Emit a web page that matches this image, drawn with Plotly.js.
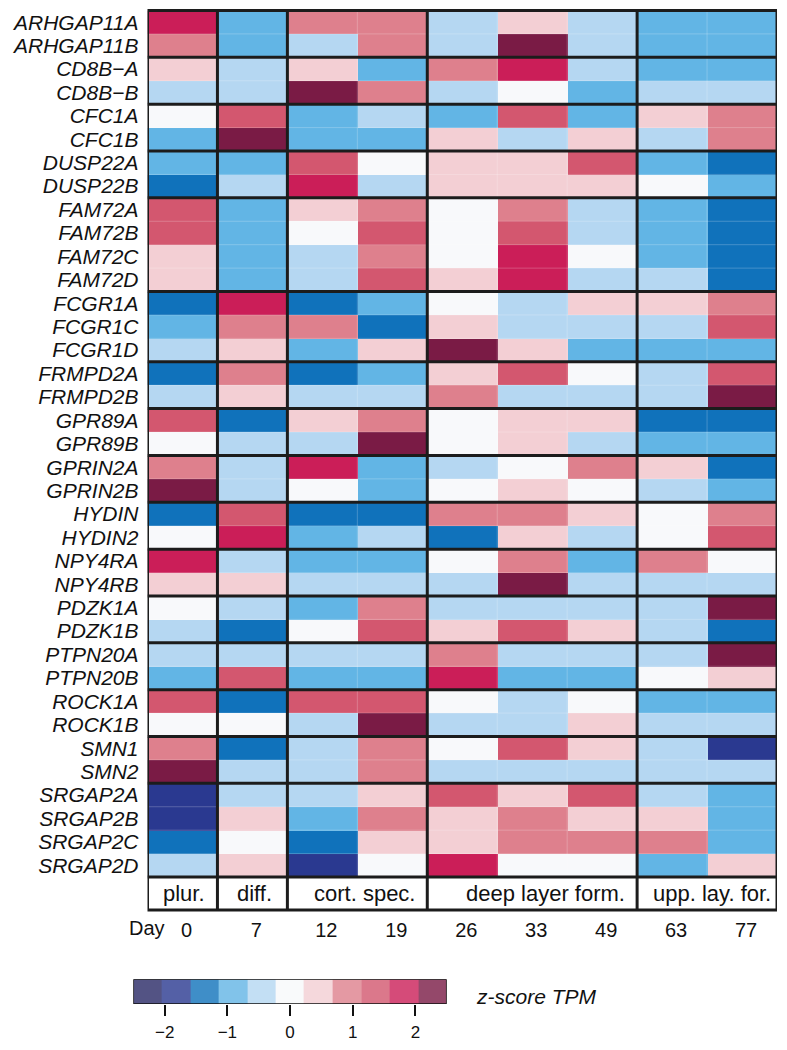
<!DOCTYPE html>
<html>
<head>
<meta charset="utf-8">
<script src="https://cdn.plot.ly/plotly-3.0.1.min.js"></script>
<style>html,body{margin:0;padding:0;background:#fff;}#chart{width:787px;height:1050px;}</style>
</head>
<body>
<div id="chart"></div>
<script>
// ---------- data ----------
const genes = ["ARHGAP11A","ARHGAP11B","CD8B\u2212A","CD8B\u2212B","CFC1A","CFC1B","DUSP22A","DUSP22B",
  "FAM72A","FAM72B","FAM72C","FAM72D","FCGR1A","FCGR1C","FCGR1D","FRMPD2A","FRMPD2B","GPR89A","GPR89B",
  "GPRIN2A","GPRIN2B","HYDIN","HYDIN2","NPY4RA","NPY4RB","PDZK1A","PDZK1B","PTPN20A","PTPN20B",
  "ROCK1A","ROCK1B","SMN1","SMN2","SRGAP2A","SRGAP2B","SRGAP2C","SRGAP2D"];
const geneGroupSizes = [2,2,2,2,4,3,2,2,2,2,2,2,2,2,2,4];
const days = ["0","7","12","19","26","33","49","63","77"];
const stageNames = ["plur.","diff.","cort. spec.","deep layer form.","upp. lay. for."];
const stageSizes = [1,1,2,3,2];

const day0  = [1.8,0.9,0.5,-0.5,0,-0.9,-0.9,-1.4,1.4,1.4,0.5,0.5,-1.4,-0.9,-0.5,-1.4,-0.5,1.4,0,0.9,2.3,-1.4,0,1.8,0.5,0,-0.5,-0.5,-0.9,1.4,0,0.9,2.3,-1.8,-1.8,-1.4,-0.5];
const day7  = [-0.9,-0.9,-0.5,-0.5,1.4,2.3,-0.9,-0.5,-0.9,-0.9,-0.9,-0.9,1.8,0.9,0.5,0.9,0.5,-1.4,-0.5,-0.5,-0.5,1.4,1.8,-0.5,0.5,-0.5,-1.4,-0.5,1.4,-1.4,0,-1.4,-0.5,-0.5,0.5,0,0.5];
const day12 = [0.9,-0.5,0.5,2.3,-0.9,-0.9,1.4,1.8,0.5,0,-0.5,-0.5,-1.4,0.9,-0.9,-1.4,-0.5,0.5,-0.5,1.8,0,-1.4,-0.9,-0.9,-0.5,-0.9,0,-0.5,-0.9,1.4,-0.5,-0.5,-0.5,-0.5,-0.9,-1.4,-1.8];
const day19 = [0.9,0.9,-0.9,0.9,-0.5,-0.9,0,-0.5,0.9,1.4,0.9,1.4,-0.9,-1.4,0.5,-0.9,-0.5,0.9,2.3,-0.9,-0.9,-1.4,-0.5,-0.9,-0.5,0.9,1.4,-0.5,-0.9,1.4,2.3,0.9,0.9,0.5,0.9,0.5,0];
const day26 = [-0.5,-0.5,0.9,-0.5,-0.9,0.5,0.5,0.5,0,0,0,0.5,0,0.5,2.3,0.5,0.9,0,0,-0.5,0,0.9,-1.4,0,-0.5,-0.5,0.5,0.9,1.8,0,-0.5,0,-0.5,1.4,0.5,0.5,1.8];
const day33 = [0.5,2.3,1.8,0,1.4,-0.5,0.5,0.5,0.9,1.4,1.8,1.8,-0.5,-0.5,0.5,1.4,-0.5,0.5,0.5,0,0.5,0.9,0.5,0.9,2.3,-0.5,1.4,-0.5,-0.9,-0.5,-0.5,1.4,-0.5,0.5,0.9,0.9,0];
const day49 = [-0.5,-0.5,-0.5,-0.9,-0.9,0.5,1.4,0.5,-0.5,-0.5,0,-0.5,0.5,-0.5,-0.9,0,-0.5,0.5,-0.5,0.9,0,0.5,-0.5,-0.9,-0.5,-0.5,0.5,-0.5,-0.9,0,0.5,0.5,-0.5,1.4,0.5,0.9,0];
const day63 = [-0.9,-0.9,-0.9,-0.5,0.5,-0.5,-0.9,0,-0.9,-0.9,-0.9,-0.5,0.5,-0.5,-0.9,-0.5,-0.5,-1.4,-0.9,0.5,-0.5,0,0,0.9,-0.5,-0.5,-0.5,-0.5,0,-0.9,-0.5,-0.5,-0.5,-0.5,0.5,0.9,-0.9];
const day77 = [-0.9,-0.9,-0.9,-0.5,0.9,0.9,-1.4,-0.9,-1.4,-1.4,-1.4,-1.4,0.9,1.4,-0.9,1.4,2.3,-1.4,-0.9,-1.4,-0.9,0.9,1.4,0,-0.5,2.3,-1.4,2.3,0.5,-0.9,-0.5,-1.8,-0.5,-0.9,-0.9,-0.9,0.5];

const keyValues = [-2.27,-1.82,-1.36,-0.91,-0.45,0,0.45,0.91,1.36,1.82,2.27];
const keyTicks = [-2,-1,0,1,2];

// ---------- style ----------
const binColors = ["#282966","#2a3990","#1072bb","#62b5e5","#b5d7f2","#f8f9fb","#f3cfd4","#de808d","#d3576f","#cb1e58","#7a1b45"];
const zMin = -2.5, zMax = 2.5;
const FONT = "Liberation Sans, Arial, Helvetica, sans-serif";
const LINE = "#1c1c1c";
const FAINT = "rgba(255,255,255,0.22)";
const W = 787, H = 1050;
const px = v => v / W;
const py = v => 1 - v / H;
const stageShift = [2,2,7,13,5];

const colorscale = [];
binColors.forEach((c, i) => {
  colorscale.push([i / binColors.length, c]);
  colorscale.push([(i + 1) / binColors.length, c]);
});

const dayCols = [day0, day7, day12, day19, day26, day33, day49, day63, day77];
const z = genes.map((g, r) => dayCols.map(col => col[r]));
const xIdx = days.map((d, i) => i);
const yIdx = genes.map((g, i) => i);

const heat = {
  type: "heatmap", z: z, x: xIdx, y: yIdx,
  colorscale: colorscale, zmin: zMin, zmax: zMax, showscale: false,
  xaxis: "x", yaxis: "y", hoverinfo: "skip"
};
const key = {
  type: "heatmap", z: [keyValues], x: keyValues, y: [0],
  colorscale: colorscale, zmin: zMin, zmax: zMax, showscale: false, opacity: 0.8,
  xaxis: "x3", yaxis: "y3", hoverinfo: "skip"
};
const dayAxisTrace = { type: "scatter", x: xIdx, y: xIdx.map(() => 0.5), mode: "markers",
  marker: {opacity: 0}, xaxis: "x2", yaxis: "y2", hoverinfo: "skip", showlegend: false };

const shapes = [];
// faint cell borders
yIdx.slice(1).forEach(r => shapes.push({type: "line", xref: "x", yref: "y", x0: -0.5, x1: 8.5,
  y0: r - 0.5, y1: r - 0.5, line: {color: FAINT, width: 1}}));
xIdx.slice(1).forEach(c => shapes.push({type: "line", xref: "x", yref: "y", x0: c - 0.5, x1: c - 0.5,
  y0: -0.5, y1: genes.length - 0.5, line: {color: FAINT, width: 1}}));
// row group separators
let acc = 0;
geneGroupSizes.slice(0, -1).forEach(s => {
  acc += s;
  shapes.push({type: "line", xref: "x", yref: "y", x0: -0.5, x1: 8.5, y0: acc - 0.5, y1: acc - 0.5,
    line: {color: LINE, width: 3}});
});
// stage separators
let cacc = 0;
const stageCenters = [];
stageSizes.forEach((s, i) => {
  stageCenters.push(cacc + s / 2 - 0.5);
  cacc += s;
  if (i < stageSizes.length - 1) {
    shapes.push({type: "line", xref: "x", yref: "paper", x0: cacc - 0.5, x1: cacc - 0.5,
      y0: py(910), y1: py(10.5), line: {color: LINE, width: 3}});
  }
});
shapes.push({type: "line", xref: "x", yref: "paper", x0: -0.5, x1: 8.5, y0: py(877), y1: py(877),
  line: {color: LINE, width: 3}});
shapes.push({type: "rect", xref: "x", yref: "paper", x0: -0.5, x1: 8.5, y0: py(910), y1: py(10.5),
  line: {color: LINE, width: 3}});
shapes.push({type: "rect", xref: "x3", yref: "y3", x0: zMin, x1: zMax, y0: -0.5, y1: 0.5,
  line: {color: "#111", width: 1.5}});

const annotations = stageNames.map((n, i) => ({
  text: n, xref: "x2", yref: "paper", x: stageCenters[i], y: py(893), xshift: stageShift[i],
  xanchor: "center", yanchor: "middle", showarrow: false,
  font: {family: FONT, size: 22, color: "#111"}
}));
annotations.push({text: "Day", xref: "paper", yref: "paper", x: px(147), y: py(928),
  xanchor: "center", yanchor: "middle", showarrow: false, font: {family: FONT, size: 20, color: "#111"}});
annotations.push({text: "z-score TPM", xref: "paper", yref: "paper", x: px(474), y: py(996),
  xanchor: "left", yanchor: "middle", showarrow: false,
  font: {family: FONT, size: 21, color: "#111", style: "italic"}});

const hidden = {showticklabels: false, ticks: "", showgrid: false, zeroline: false, showline: false};

const layout = {
  width: W, height: H, margin: {l: 0, r: 0, t: 0, b: 0},
  paper_bgcolor: "#fff", plot_bgcolor: "#fff", showlegend: false,
  font: {family: FONT, color: "#111"},
  xaxis: Object.assign({domain: [px(147.5), px(777)], range: [-0.5, 8.5]}, hidden),
  yaxis: {domain: [py(877), py(10.5)], range: [36.5, -0.5], tickvals: yIdx, ticktext: genes,
    ticks: "", ticklabelstandoff: 8, showgrid: false, zeroline: false, showline: false,
    tickfont: {family: FONT, size: 21, color: "#111", style: "italic"}},
  xaxis2: {domain: [px(147.5), px(777)], range: [-0.5, 8.5], anchor: "y2", tickvals: xIdx, ticktext: days,
    ticks: "", ticklabelstandoff: 6, ticklabelshift: 4, showgrid: false, zeroline: false, showline: false,
    tickfont: {family: FONT, size: 20, color: "#111"}},
  yaxis2: Object.assign({domain: [py(910), py(877)], range: [0, 1], anchor: "x2", visible: false}, hidden),
  xaxis3: {domain: [px(133.3), px(446.7)], range: [zMin, zMax], anchor: "y3", tickvals: keyTicks,
    ticks: "outside", ticklen: 11, tickwidth: 2, tickcolor: "#111", ticklabelstandoff: 2,
    showgrid: false, zeroline: false, showline: false,
    tickfont: {family: FONT, size: 17, color: "#111"}},
  yaxis3: Object.assign({domain: [py(1004), py(979.3)], range: [-0.5, 0.5], anchor: "x3", visible: false}, hidden),
  shapes: shapes, annotations: annotations
};

Plotly.newPlot("chart", [heat, dayAxisTrace, key], layout, {displayModeBar: false, staticPlot: true});
</script>
</body>
</html>
